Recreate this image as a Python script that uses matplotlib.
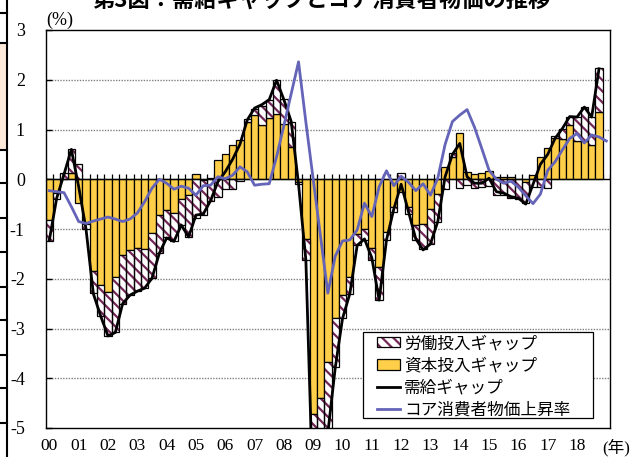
import matplotlib
matplotlib.use("Agg")
import matplotlib.pyplot as plt
import numpy as np
from matplotlib.patches import Patch, Rectangle
from matplotlib.lines import Line2D

plt.rcParams["font.family"] = ["Liberation Serif", "Noto Sans CJK JP"]
plt.rcParams["hatch.linewidth"] = 1.6

# quarterly data, 2000Q1 - 2018Q4 (cpi runs one quarter further)
years = ["00", "01", "02", "03", "04", "05", "06", "07", "08", "09",
         "10", "11", "12", "13", "14", "15", "16", "17", "18"]

capital = [
    -0.82, -0.28, 0.00, 0.13,
    -0.47, -0.90, -1.84, -2.12,
    -2.27, -1.96, -1.52, -1.42,
    -1.39, -1.41, -1.09, -0.72,
    -0.62, -0.68, -0.39, -0.32,
    0.10, -0.02, 0.03, 0.39,
    0.50, 0.69, 0.79, 1.16,
    1.29, 1.09, 1.24, 1.32,
    1.12, 0.64, -0.06, -1.21,
    -4.71, -4.40, -3.67, -2.78,
    -2.33, -1.96, -1.10, -1.00,
    -1.39, -1.76, -1.06, -0.55,
    -0.25, -0.55, -0.92, -0.90,
    -0.60, -0.30, 0.25, 0.45,
    0.92, 0.15, 0.10, 0.12,
    0.17, 0.05, 0.04, 0.04,
    0.00, -0.05, 0.08, 0.44,
    0.63, 0.82, 0.80, 1.10,
    0.77, 0.77, 0.69, 1.35,
]

labor = [
    -0.42, -0.12, 0.12, 0.47,
    0.31, -0.10, -0.45, -0.62,
    -0.88, -1.12, -0.98, -0.90,
    -0.86, -0.78, -0.90, -0.77,
    -0.55, -0.57, -0.52, -0.84,
    -0.78, -0.70, -0.44, -0.35,
    -0.20, -0.20, -0.03, 0.06,
    0.13, 0.38, 0.35, 0.68,
    0.50, 0.52, -0.04, -0.41,
    -1.80, -1.80, -1.43, -1.00,
    -0.45, -0.35, -0.22, -0.22,
    -0.23, -0.67, -0.17, -0.10,
    0.12, -0.15, -0.30, -0.50,
    -0.70, -0.55, -0.20, 0.07,
    -0.18, -0.12, -0.18, -0.15,
    -0.14, -0.32, -0.32, -0.38,
    -0.40, -0.42, -0.15, -0.15,
    -0.17, 0.04, 0.22, 0.16,
    0.49, 0.68, 0.56, 0.88,
]

gap = [
    -1.22, -0.38, 0.10, 0.60,
    -0.15, -1.00, -2.30, -2.75,
    -3.15, -3.08, -2.50, -2.33,
    -2.25, -2.19, -1.99, -1.49,
    -1.18, -1.25, -0.92, -1.16,
    -0.72, -0.70, -0.43, -0.05,
    0.15, 0.40, 0.70, 1.19,
    1.43, 1.50, 1.60, 1.99,
    1.60, 1.16, -0.10, -1.62,
    -6.50, -6.20, -5.10, -3.80,
    -2.80, -2.30, -1.33, -1.20,
    -1.58, -2.43, -1.22, -0.60,
    -0.10, -0.65, -1.20, -1.42,
    -1.30, -0.85, 0.05, 0.50,
    0.72, 0.05, -0.08, -0.08,
    0.02, -0.25, -0.28, -0.35,
    -0.38, -0.50, -0.10, 0.30,
    0.50, 0.82, 1.02, 1.26,
    1.25, 1.45, 1.25, 2.22,
]

cpi = [
    -0.23, -0.25, -0.27, -0.55,
    -0.85, -0.89, -0.84, -0.80,
    -0.76, -0.80, -0.85, -0.80,
    -0.68, -0.45, -0.18, 0.00,
    -0.08, -0.20, -0.14, -0.18,
    -0.32, -0.13, -0.12, 0.05,
    0.01, 0.08, 0.25, 0.15,
    -0.12, -0.10, -0.09, 0.45,
    1.08, 1.72, 2.36, 1.15,
    0.00, -1.15, -2.29, -1.55,
    -1.24, -1.22, -1.02, -0.48,
    -0.75, -0.15, 0.17, -0.13,
    0.06, -0.06, -0.23, -0.09,
    -0.32, 0.02, 0.70, 1.16,
    1.29, 1.40, 1.05, 0.62,
    0.18, 0.00, -0.08, -0.04,
    -0.16, -0.33, -0.49, -0.30,
    0.18, 0.35, 0.59, 0.82,
    0.92, 0.73, 0.89, 0.85,
    0.77,
]

yticks = [3, 2, 1, 0, -1, -2, -3, -4, -5]

YELLOW = "#FFCF4A"
PURPLE = "#722656"
BLUE = "#6464B8"
W, H = 634, 457

fig = plt.figure(figsize=(W / 100, H / 100), dpi=100)
ax = fig.add_axes([45.7 / W, 1 - 428 / H, (610 - 45.7) / W, (428 - 30) / H])

x = np.arange(len(capital))
cap = np.array(capital)
lab = np.array(labor)
# excel stacks positives and negatives separately
lab_bottom = np.where(np.sign(lab) == np.sign(cap), cap, 0.0)

ax.bar(x, cap, width=1.0, color=YELLOW, edgecolor="black", linewidth=0.9, zorder=2)
ax.bar(x, lab, width=1.0, bottom=lab_bottom, color="white", edgecolor=PURPLE,
       hatch="\\\\\\", linewidth=0, zorder=2)
ax.bar(x, lab, width=1.0, bottom=lab_bottom, fill=False, edgecolor="black",
       linewidth=0.9, zorder=2.1)

ax.plot(np.arange(len(gap)), gap, color="black", lw=2.0, zorder=4)
ax.plot(np.arange(len(cpi)), cpi, color=BLUE, lw=2.0, zorder=5)

for yv in [-4, -3, -2, -1, 1, 2]:
    ax.axhline(yv, color="#808080", lw=1.0, ls=(0, (1, 1)), zorder=1)
ax.axhline(0, color="black", lw=1.0, zorder=3)
ax.vlines(np.arange(len(cpi) + 1) - 0.5, 0, 0.1, color="black", lw=0.9, zorder=1.5)

ax.set_xlim(-0.5, len(cpi) - 0.5)
ax.set_ylim(-5, 3)
ax.set_yticks(yticks)
ax.set_yticklabels([str(v) for v in yticks])
ax.set_xticks(np.arange(len(years)) * 4)
ax.set_xticklabels(years)
ax.tick_params(axis="y", direction="in", length=4.5, width=1, pad=15, labelsize=13)
ax.tick_params(axis="x", length=0, pad=7, labelsize=12.5)
for s in ax.spines.values():
    s.set_linewidth(1.0)
    s.set_color("black")

# legend
def ax_xy(px, py):
    return (px - 45.7) / (610 - 45.7), (428 - py) / (428 - 30)

x0, y0 = ax_xy(363, 418)
x1, y1 = ax_xy(593, 332)
ax.add_patch(Rectangle((x0, y0), x1 - x0, y1 - y0, transform=ax.transAxes,
                       facecolor="white", edgecolor="black", lw=0.9, zorder=6))
handles = [
    (Patch(facecolor="white", edgecolor=PURPLE, hatch="\\\\\\", lw=0),
     Patch(fill=False, edgecolor="black", lw=0.9)),
    Patch(facecolor=YELLOW, edgecolor="black", lw=0.9),
    Line2D([], [], color="black", lw=2.0),
    Line2D([], [], color=BLUE, lw=2.0),
]
labels = ["労働投入ギャップ", "資本投入ギャップ", "需給ギャップ", "コア消費者物価上昇率"]
lx, ly = ax_xy(377, 335)
leg = ax.legend(handles, labels, loc="upper left", bbox_to_anchor=(lx, ly),
                frameon=False, borderpad=0, borderaxespad=0,
                prop={"family": "Noto Sans CJK JP", "size": 12},
                handlelength=1.38, handleheight=0.6, handletextpad=0.25,
                labelspacing=0.32)
leg.set_zorder(7)

fig.text(46 / W, 1 - 20 / H, "(%)", fontsize=13, ha="left", va="center")
fig.text(602 / W, 1 - 448 / H, "(年)", fontsize=12, ha="left", va="center",
         family=["Liberation Serif", "Noto Sans CJK JP"])
fig.text(322 / W, 1 - 7 / H, "第3図：需給ギャップとコア消費者物価の推移",
         fontsize=16, fontweight="bold", family="Noto Sans CJK JP",
         ha="center", va="baseline")

# fragment of the neighbouring panel at the left edge
fig.add_artist(Rectangle((0, 1 - 150 / H), 7 / W, 107 / H, transform=fig.transFigure,
                         facecolor="#FCE9DA", edgecolor="none"))
fig.add_artist(Line2D([7 / W, 7 / W], [0, 1], transform=fig.transFigure,
                      color="black", lw=1.5))
for ty in [13, 43, 150, 183, 218, 252, 287, 320, 355, 388, 423]:
    fig.add_artist(Line2D([0, 7 / W], [1 - ty / H, 1 - ty / H],
                          transform=fig.transFigure, color="black", lw=1.5))

fig.savefig("out.png", dpi=100)
